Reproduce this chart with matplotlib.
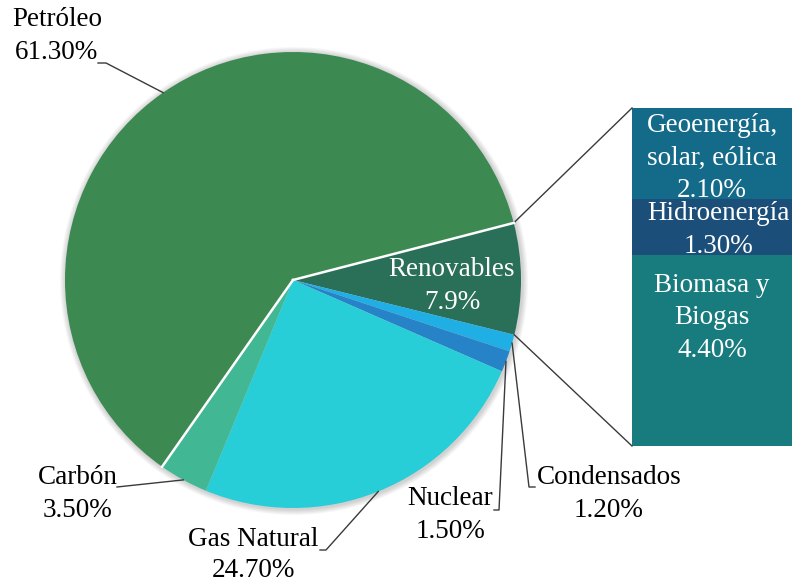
import numpy as np
import matplotlib.pyplot as plt
from matplotlib.patches import Circle

plt.rcParams['font.family'] = ['Liberation Serif', 'DejaVu Serif']

# pie slices, clockwise starting from Renovables
fuentes = ['Renovables', 'Condensados', 'Nuclear', 'Gas Natural', 'Carbón', 'Petróleo']
porcentajes = [7.9, 1.2, 1.5, 24.7, 3.5, 61.3]
colores = ['#2a6f57', '#1fafe4', '#2783c7', '#27cdd7', '#42b794', '#3d8952']

# breakdown of Renovables (bar, top to bottom)
renovables = ['Geoenergía,\nsolar, eólica\n2.10%', 'Hidroenergía\n1.30%', 'Biomasa y\nBiogas\n4.40%']
renov_pct = [2.1, 1.3, 4.4]
renov_col = ['#146a89', '#1b4e78', '#187c7e']

W, H = 792, 584
fig = plt.figure(figsize=(W / 100, H / 100), dpi=100)
ax = fig.add_axes([0, 0, 1, 1])
ax.set_xlim(0, W)
ax.set_ylim(0, H)
ax.set_aspect('equal')
ax.axis('off')

cx, cy, r = 293, H - 280, 228

# soft shadow around the pie
for k in range(6):
    ax.add_patch(Circle((cx + 1, cy - 1), r + 1 + k, color='#000000', alpha=0.03, lw=0, zorder=0))

wedges, _ = ax.pie(porcentajes, colors=colores, startangle=14.5, counterclock=False,
                   center=(cx, cy), radius=r, frame=True,
                   wedgeprops=dict(linewidth=0))
ax.set_xlim(0, W)
ax.set_ylim(0, H)
ax.axis('off')

def edge(theta, rad=r):
    t = np.deg2rad(theta)
    return cx + rad * np.cos(t), cy + rad * np.sin(t)

def mid(w):
    return edge((w.theta1 + w.theta2) / 2)

# white separators on both sides of Petróleo
for th in (wedges[-1].theta1, wedges[-1].theta2):
    ex, ey = edge(th)
    ax.plot([cx, ex], [cy, ey], color='white', lw=1.8, zorder=3)

fs = 19.5
ls = 1.38
lc = '#3a3a3a'

# Renovables label inside the slice
ax.text(452, H - 286, 'Renovables\n7.9%', color='white', fontsize=fs, ha='center', va='center',
        linespacing=ls)

# outside labels with leader lines
ax.text(57, H - 36, 'Petróleo\n61.30%', fontsize=fs, ha='center', va='center', linespacing=ls)
px, py = mid(wedges[5])
ax.plot([98, 106, px], [H - 63, H - 63, py], color=lc, lw=1)

ax.text(78, H - 494, 'Carbón\n3.50%', fontsize=fs, ha='center', va='center', linespacing=ls)
px, py = mid(wedges[4])
ax.plot([117, px], [H - 487, py], color=lc, lw=1)

ax.text(253, H - 555, 'Gas Natural\n24.70%', fontsize=fs, ha='center', va='center', linespacing=1.32)
px, py = mid(wedges[3])
ax.plot([320, 326, px], [H - 550, H - 550, py], color=lc, lw=1)

ax.text(450, H - 515, 'Nuclear\n1.50%', fontsize=fs, ha='center', va='center', linespacing=ls)
px, py = mid(wedges[2])
ax.plot([494, 499, px], [H - 510, H - 510, py], color=lc, lw=1)

ax.text(609, H - 494, 'Condensados\n1.20%', fontsize=fs, ha='center', va='center', linespacing=ls)
px, py = mid(wedges[1])
ax.plot([535, 529, px], [H - 487, H - 487, py], color=lc, lw=1)

# stacked bar for the renewables breakdown
bx0, bx1 = 632, 800
btop, bbot = H - 108, H - 446
scale = (btop - bbot) / sum(renov_pct)
heights = np.array(renov_pct) * scale
bottoms = btop - np.cumsum(heights)
ax.bar([bx0] * 3, heights, bottom=bottoms, width=bx1 - bx0, align='edge',
       color=renov_col, linewidth=0, zorder=2)

ax.text(712, H - 158, renovables[0], color='white', fontsize=fs, ha='center', va='center',
        linespacing=ls, zorder=3)
ax.text(718, H - 230, renovables[1], color='white', fontsize=fs, ha='center', va='center',
        linespacing=ls, zorder=3)
ax.text(712, H - 318, renovables[2], color='white', fontsize=fs, ha='center', va='center',
        linespacing=ls, zorder=3)

# connector lines from Renovables slice to the bar
x1, y1 = edge(wedges[0].theta2)
x2, y2 = edge(wedges[0].theta1)
ax.plot([x1, bx0], [y1, btop], color=lc, lw=1)
ax.plot([x2, bx0], [y2, bbot], color=lc, lw=1)

fig.savefig('out.png', dpi=100)
